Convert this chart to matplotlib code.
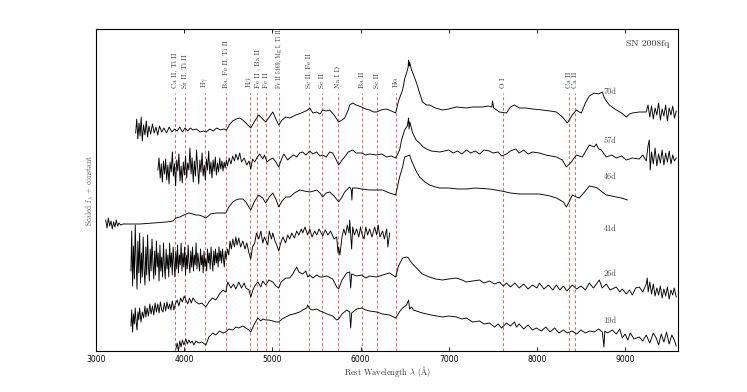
import matplotlib
matplotlib.use("Agg")
import matplotlib.pyplot as plt
import numpy as np

plt.rcParams['mathtext.fontset'] = 'cm'
plt.rcParams['axes.unicode_minus'] = False

# spectra as (rest wavelength [A], scaled flux) pairs
spec_70d = [
    [3450, -22], [3462, -8], [3475, -28], [3488, -12], [3500, -25], [3512, -6], [3525, -30], [3540, -14],
    [3555, -24], [3570, -10], [3585, -26], [3600, -15], [3620, -23], [3640, -13], [3660, -22], [3680, -16],
    [3700, -24], [3720, -15], [3745, -21], [3770, -17], [3800, -22], [3830, -16], [3860, -21], [3890, -18],
    [3920, -20], [3950, -16], [3980, -21], [4010, -17], [4040, -20], [4070, -17], [4100, -19], [4140, -18],
    [4180, -21], [4220, -20], [4250, -21], [4290, -18], [4330, -20], [4370, -17], [4410, -19], [4450, -18],
    [4480, -19], [4510, -14], [4550, -10], [4590, -8], [4630, -7], [4665, -9], [4700, -12], [4755, -17],
    [4800, -10], [4846, -4], [4890, -8], [4925, -11], [4965, -6], [5005, -1], [5040, -8], [5072, -14],
    [5110, -9], [5152, -6], [5197, -7], [5265, -4], [5330, -2], [5400, 1], [5424, 3], [5460, -2],
    [5503, -1], [5540, -3], [5571, 1], [5610, 0], [5650, 1], [5700, -4], [5752, -11], [5790, -9],
    [5820, -7], [5860, 1], [5877, 6], [5911, 8], [5950, 6], [6012, 4], [6060, 2], [6103, 1],
    [6150, -1], [6182, -1], [6230, 1], [6296, 2], [6350, 0], [6398, -2], [6430, 10], [6477, 21],
    [6500, 32], [6522, 38], [6540, 44], [6545, 51], [6550, 45], [6556, 49], [6579, 41], [6610, 34],
    [6635, 28], [6670, 18], [6703, 9], [6749, 6], [6783, 6], [6850, 3], [6930, 1], [7000, 2],
    [7088, 4], [7200, 3], [7270, 4], [7383, 4], [7450, 5], [7490, 4], [7496, 10], [7510, 3],
    [7575, -1], [7655, -2], [7700, 4], [7745, 6], [7800, 3], [7881, 3], [7950, 2], [8062, 1],
    [8150, 0], [8221, -1], [8289, -6], [8345, -12], [8402, -4], [8447, 1], [8481, -1], [8504, -2],
    [8550, 8], [8594, 15], [8651, 18], [8700, 17], [8742, 19], [8760, 14], [8787, 10], [8821, 6],
    [8900, 1], [8960, -2], [9014, -6], [9050, -3], [9082, -2], [9160, -1], [9240, -1], [9260, 6],
    [9280, -6], [9300, 5], [9320, -8], [9340, 3], [9360, -4], [9380, 8], [9400, -9], [9420, 2],
    [9440, -5], [9460, 6], [9480, -10], [9500, 3], [9520, -4], [9540, 5], [9560, -7], [9580, 0],
]

spec_57d = [
    [3702, -14], [3715, -2], [3728, -22], [3740, -8], [3752, -26], [3765, -5], [3778, -18], [3790, -3],
    [3802, -24], [3815, -9], [3828, -28], [3840, -6], [3853, -16], [3866, 4], [3878, -20], [3890, -8],
    [3903, -30], [3915, -4], [3928, -15], [3940, 2], [3953, -25], [3965, -10], [3978, -27], [3990, -6],
    [4003, -19], [4015, 0], [4028, -22], [4040, -7], [4053, -14], [4065, 8], [4078, -18], [4090, -2],
    [4103, -26], [4115, -5], [4128, -20], [4140, 6], [4153, -12], [4165, -28], [4178, -4], [4190, -16],
    [4203, 3], [4215, -20], [4228, -9], [4240, -24], [4253, -3], [4265, -14], [4278, 5], [4290, -18],
    [4303, -6], [4315, -22], [4328, -4], [4340, -15], [4353, -1], [4365, -19], [4378, -7], [4390, -16],
    [4403, -2], [4415, -13], [4428, -5], [4440, -15], [4453, -6], [4465, -12], [4478, -4], [4490, -10],
    [4510, -2], [4530, -8], [4550, 0], [4570, -5], [4586, 2], [4610, -4], [4630, 3], [4650, -6],
    [4680, -2], [4710, -9], [4735, -5], [4755, -13], [4775, -3], [4800, -6], [4830, -1], [4855, 2],
    [4891, -3], [4910, 1], [4940, -6], [4965, -4], [5005, -2], [5040, -6], [5072, -11], [5100, -4],
    [5130, 2], [5174, -4], [5197, -2], [5240, 1], [5276, -1], [5310, 3], [5344, 4], [5380, 1],
    [5424, 5], [5460, 2], [5500, 4], [5540, 0], [5571, 1], [5610, -1], [5650, 4], [5684, 3],
    [5720, -3], [5752, -9], [5790, -4], [5820, -1], [5860, 4], [5911, 6], [5950, 3], [6012, 3],
    [6060, 1], [6103, 2], [6182, 1], [6240, 2], [6296, -1], [6350, 0], [6398, -2], [6443, 6],
    [6465, 16], [6500, 26], [6530, 30], [6545, 38], [6550, 27], [6560, 34], [6590, 23], [6630, 16],
    [6669, 13], [6710, 9], [6749, 7], [6800, 5], [6900, 4], [7000, 6], [7050, 3], [7100, 5],
    [7150, 2], [7200, 6], [7250, 3], [7300, 5], [7350, 2], [7400, 6], [7462, 5], [7500, 3],
    [7560, 4], [7600, 0], [7655, 2], [7700, 5], [7760, 7], [7800, 3], [7850, 6], [7900, 2],
    [7950, 4], [8028, 3], [8100, 1], [8221, -1], [8289, -4], [8334, -11], [8391, -6], [8447, 1],
    [8515, -1], [8594, 11], [8650, 9], [8674, 12], [8700, 7], [8730, 6], [8787, -1], [8850, 1],
    [8900, -2], [8960, 0], [9014, -4], [9082, -2], [9161, -3], [9200, 1], [9240, -5], [9260, 10],
    [9274, 16], [9285, -14], [9300, 4], [9320, -8], [9340, 8], [9360, -10], [9380, 2], [9400, -7],
    [9420, 6], [9440, -9], [9460, 3], [9480, -6], [9500, 5], [9520, -8], [9540, 1], [9560, -5],
    [9580, -2],
]

spec_46d = [
    [3110, -24], [3125, -32], [3140, -22], [3155, -30], [3170, -25], [3185, -33], [3200, -26], [3215, -31],
    [3230, -24], [3245, -30], [3260, -27], [3280, -29], [3306, -28], [3374, -28], [3500, -28], [3650, -27],
    [3800, -26], [3872, -25], [3906, -22], [3950, -21], [3997, -19], [4050, -17], [4099, -18], [4133, -19],
    [4166, -19], [4200, -20], [4246, -22], [4300, -18], [4359, -17], [4420, -17], [4472, -17], [4506, -11],
    [4552, -6], [4586, -4], [4619, -3], [4665, -3], [4700, -6], [4755, -14], [4800, -5], [4846, 1],
    [4890, -2], [4925, -7], [4965, -1], [5005, 3], [5040, -3], [5072, -11], [5110, -5], [5152, -1],
    [5197, -1], [5250, 3], [5310, 6], [5360, 5], [5424, 4], [5470, 5], [5503, 6], [5540, 3],
    [5571, -1], [5610, 3], [5650, 4], [5700, 0], [5752, -6], [5790, -1], [5820, 4], [5877, 9],
    [5895, 6], [5902, -4], [5909, 8], [5956, 8], [6012, 7], [6103, 6], [6182, 6], [6250, 6],
    [6330, 3], [6398, 1], [6443, 19], [6477, 29], [6500, 39], [6530, 40], [6556, 41], [6575, 36],
    [6590, 33], [6630, 25], [6669, 19], [6730, 14], [6783, 11], [6850, 9], [6896, 8], [7000, 8],
    [7100, 7], [7200, 7], [7300, 8], [7462, 7], [7600, 5], [7700, 3], [7800, 2], [8028, 2],
    [8150, 0], [8221, -2], [8300, -6], [8334, -11], [8370, -5], [8402, 1], [8447, -1], [8481, -2],
    [8540, 4], [8594, 10], [8650, 9], [8685, 8], [8740, 4], [8787, 1], [8850, 0], [8900, -1],
    [8960, -2], [9025, -4],
]

spec_41d = [
    [3396, -30], [3405, 10], [3415, -45], [3425, -5], [3435, -38], [3445, 16], [3455, -20], [3465, -48],
    [3475, 0], [3485, -32], [3495, 8], [3505, -42], [3515, -12], [3525, -36], [3535, 4], [3545, -28],
    [3555, -44], [3565, -6], [3575, -34], [3585, 6], [3595, -25], [3605, -40], [3615, -8], [3625, -30],
    [3635, 2], [3645, -22], [3655, -38], [3665, -10], [3675, -34], [3685, 0], [3695, -26], [3705, -12],
    [3715, -40], [3725, -4], [3735, -30], [3745, -16], [3755, -36], [3765, -2], [3775, -24], [3785, -38],
    [3795, -8], [3805, -28], [3815, -14], [3825, -36], [3835, -2], [3845, -26], [3855, -12], [3865, -34],
    [3875, -6], [3885, -22], [3895, -36], [3905, -10], [3915, -28], [3925, -4], [3935, -32], [3945, -14],
    [3955, -24], [3965, -2], [3975, -30], [3985, -12], [3995, -26], [4005, -6], [4015, -34], [4025, -14],
    [4035, -28], [4045, -4], [4055, -22], [4065, -32], [4075, -10], [4085, -26], [4095, -6], [4105, -30],
    [4115, -14], [4125, -24], [4135, -2], [4145, -28], [4155, -12], [4165, -22], [4175, -30], [4185, -8],
    [4195, -24], [4205, -14], [4215, -32], [4225, -10], [4235, -26], [4245, -18], [4255, -30], [4265, -8],
    [4275, -22], [4285, -12], [4295, -28], [4305, -6], [4315, -20], [4325, -30], [4335, -10], [4345, -24],
    [4355, -8], [4365, -22], [4375, -12], [4385, -26], [4395, -6], [4405, -20], [4415, -10], [4425, -22],
    [4435, -8], [4445, -18], [4455, -26], [4465, -10], [4475, -18], [4490, -8], [4505, -14], [4520, 0],
    [4535, -8], [4552, 2], [4570, -6], [4586, 4], [4600, -4], [4619, 3], [4640, -6], [4665, 0],
    [4690, -8], [4710, -2], [4735, -12], [4755, -18], [4775, -6], [4800, -2], [4820, 8], [4846, 2],
    [4870, 10], [4891, -2], [4910, 4], [4948, -4], [4965, 10], [4990, 2], [5005, 8], [5030, 0],
    [5050, -4], [5072, -10], [5095, -2], [5120, 4], [5150, -2], [5174, 6], [5197, 2], [5220, 8],
    [5250, 3], [5276, 10], [5300, 6], [5330, 12], [5344, 8], [5370, 14], [5400, 6], [5424, 12],
    [5450, 4], [5480, 10], [5503, 6], [5530, 12], [5571, 5], [5600, 11], [5630, 6], [5660, 10],
    [5700, 2], [5729, 4], [5745, -12], [5752, -6], [5765, -14], [5790, 4], [5810, 12], [5830, 6],
    [5850, 16], [5870, 8], [5877, 21], [5890, 4], [5899, -8], [5911, 14], [5930, 6], [5956, 12],
    [5980, 4], [6000, 14], [6012, 8], [6040, 2], [6060, 14], [6080, 6], [6103, 12], [6130, 4],
    [6160, 14], [6182, 6], [6200, 16], [6220, 4], [6250, 10], [6270, 2], [6296, 12], [6310, -6],
    [6330, 8],
]

spec_26d = [
    [3396, -40], [3405, -24], [3415, -46], [3425, -28], [3435, -38], [3445, -22], [3455, -36], [3465, -44],
    [3475, -26], [3485, -34], [3495, -22], [3510, -36], [3525, -26], [3540, -32], [3555, -20], [3566, -31],
    [3580, -22], [3595, -30], [3610, -18], [3625, -28], [3640, -20], [3655, -29], [3670, -17], [3685, -26],
    [3700, -18], [3715, -27], [3730, -16], [3745, -24], [3759, -26], [3775, -17], [3790, -25], [3805, -16],
    [3820, -23], [3835, -18], [3850, -24], [3865, -15], [3883, -24], [3900, -18], [3920, -14], [3940, -20],
    [3960, -12], [3980, -16], [4000, -10], [4019, -14], [4040, -18], [4060, -12], [4080, -17], [4100, -12],
    [4133, -16], [4166, -18], [4200, -17], [4246, -21], [4280, -16], [4320, -12], [4359, -14], [4400, -8],
    [4440, -4], [4472, -6], [4495, 4], [4530, -2], [4560, 2], [4586, -3], [4619, 4], [4650, -2],
    [4680, 3], [4700, -2], [4735, -4], [4755, -11], [4780, -4], [4800, 0], [4835, 4], [4870, -1],
    [4891, 5], [4925, 1], [4960, 6], [5005, 4], [5040, 0], [5072, -2], [5100, 4], [5152, 8],
    [5197, 8], [5230, 12], [5276, 19], [5300, 14], [5344, 12], [5380, 15], [5401, 9], [5424, 11],
    [5460, 8], [5503, 11], [5540, 9], [5571, 9], [5620, 10], [5684, 7], [5729, -1], [5752, -3],
    [5790, 6], [5843, 13], [5877, 14], [5888, -2], [5899, 12], [5956, 10], [6012, 11], [6060, 8],
    [6103, 10], [6182, 9], [6250, 11], [6330, 13], [6398, 9], [6430, 20], [6477, 28], [6522, 29],
    [6545, 28], [6556, 26], [6590, 22], [6635, 18], [6700, 12], [6783, 9], [6850, 7], [6930, 6],
    [7000, 7], [7088, 8], [7150, 6], [7200, 4], [7270, 5], [7350, 6], [7400, 3], [7462, 5],
    [7520, 2], [7575, 4], [7620, 0], [7655, 3], [7700, -1], [7750, 3], [7800, -2], [7850, 2],
    [7900, -3], [7950, 1], [8000, -2], [8028, 3], [8080, -3], [8130, 1], [8180, -4], [8221, 1],
    [8260, -4], [8300, 0], [8340, -5], [8402, 1], [8450, -3], [8500, 0], [8550, -4], [8594, 3],
    [8640, -2], [8708, 6], [8740, -2], [8787, 2], [8830, -4], [8900, -1], [8940, -6], [8968, -3],
    [9014, -8], [9050, -4], [9082, -9], [9120, -2], [9161, -1], [9200, -6], [9240, 2], [9251, 8],
    [9262, -6], [9280, 4], [9300, -8], [9320, 2], [9340, -10], [9360, -2], [9380, -9], [9400, 0],
    [9420, -12], [9440, -3], [9460, -10], [9480, -1], [9500, -13], [9520, -4], [9540, -9], [9557, -2],
    [9580, -11],
]

spec_19d = [
    [3906, -18], [3920, -12], [3935, -20], [3950, -10], [3965, -16], [3980, -9], [3997, -14], [4019, -8],
    [4035, -13], [4053, -9], [4070, -12], [4090, -10], [4110, -14], [4133, -10], [4166, -12], [4200, -11],
    [4246, -14], [4280, -6], [4325, -2], [4359, -4], [4400, 0], [4440, -2], [4472, -1], [4506, 2],
    [4552, 1], [4586, 4], [4619, 3], [4665, 5], [4700, 3], [4735, 1], [4755, -1], [4790, 6],
    [4835, 13], [4870, 10], [4891, 12], [4925, 11], [4959, 11], [5005, 10], [5040, 9], [5072, 9],
    [5110, 12], [5152, 14], [5197, 16], [5240, 17], [5276, 18], [5310, 19], [5344, 21], [5390, 23],
    [5401, 26], [5424, 22], [5460, 21], [5503, 22], [5540, 20], [5571, 19], [5620, 17], [5684, 15],
    [5729, 11], [5752, 12], [5790, 17], [5843, 21], [5877, 19], [5888, 3], [5899, 18], [5956, 22],
    [6012, 23], [6060, 21], [6103, 20], [6182, 19], [6250, 17], [6330, 16], [6398, 13], [6440, 19],
    [6477, 23], [6522, 26], [6545, 31], [6556, 22], [6579, 24], [6600, 21], [6630, 20], [6703, 18],
    [6800, 16], [6930, 14], [7000, 15], [7088, 14], [7150, 12], [7200, 13], [7270, 9], [7350, 10],
    [7400, 7], [7462, 8], [7519, 4], [7560, 7], [7600, 3], [7655, 8], [7700, 5], [7745, 9],
    [7768, 4], [7800, 7], [7850, 2], [7900, 6], [7950, 1], [7994, 3], [8050, 0], [8100, 4],
    [8150, -1], [8200, 3], [8250, -2], [8300, 1], [8345, -2], [8400, 0], [8450, -3], [8500, 1],
    [8550, -2], [8600, 0], [8650, -1], [8700, 2], [8742, -1], [8760, -16], [8770, 0], [8800, -2],
    [8855, 1], [8900, -3], [8940, 2], [8968, -7], [9000, -3], [9030, -9], [9060, -2], [9100, -8],
    [9161, -6], [9200, -10], [9240, -4], [9280, -12], [9320, -2], [9353, -7], [9380, -14], [9410, -3],
    [9440, -11], [9470, -1], [9500, -13], [9530, -4], [9557, -9], [9580, -15],
]

epochs = ['70d', '57d', '46d', '41d', '26d', '19d']
offsets = [240, 195, 155, 110, 65, 20]
spectra = [spec_70d, spec_57d, spec_46d, spec_41d, spec_26d, spec_19d]
epoch_label_y = [259, 210, 174, 122, 77, 30]

line_wl = [3898, 4004, 4238, 4476, 4748, 4831, 4925, 5076, 5416, 5559, 5748, 6016, 6182, 6401,
           7613, 8360, 8433]
line_names = ['Ca II, Ti II', 'Sr II, Ti II', r'H$\gamma$', 'Ba, Fe II, Ti II', r'H$\beta$',
              'Fe II , Ba II', 'Fe II', 'Fe II 5169, Mg I, Ti II', 'Sc II, Fe II', 'Sc II', 'Na I D',
              'Ba II', 'Sc II', r'H$\alpha$', 'O I', 'Ca II', 'Ca II']

fig = plt.figure(figsize=(7.47, 3.92), dpi=100)
ax = fig.add_axes([96/747, 41/392, 582/747, 322/392])

for wl, name in zip(line_wl, line_names):
    ax.axvline(wl, ymin=0, ymax=0.80, color='#f06060', ls=(0, (3, 2.5)), lw=0.7, zorder=1)
    fs = 4.3 if '5169' in name else 5.2
    ax.text(wl, 0.818, name, transform=ax.get_xaxis_transform(), rotation=90,
            ha='center', va='bottom', fontsize=fs, family='cmr10', color='#333333',
            linespacing=1.0)

for spec, off, ep, ly in zip(spectra, offsets, epochs, epoch_label_y):
    arr = np.array(spec, dtype=float)
    ax.plot(arr[:, 0], arr[:, 1] + off, color='black', lw=0.65, zorder=2)
    ax.text(8830, ly, ep, fontsize=6, family='cmr10', color='#444444', ha='center', va='center')

ax.text(0.985, 0.955, 'SN 2008fq', transform=ax.transAxes, ha='right', va='center',
        fontsize=7, family='cmr10', color='#333333')

ax.set_xlim(3000, 9600)
ax.set_ylim(0, 322)
ax.set_xticks([3000, 4000, 5000, 6000, 7000, 8000, 9000])
ax.set_yticks([])
ax.tick_params(axis='x', direction='in', top=True, length=3, width=0.6, labelsize=5.5, pad=3)
for s in ax.spines.values():
    s.set_linewidth(0.8)

ax.set_xlabel(r'Rest Wavelength $\lambda$ ($\mathrm{\AA}$)', fontsize=6, family='cmr10',
              color='#333333', labelpad=0)
ax.set_ylabel(r'Scaled f$_\lambda$ + constant', fontsize=5.5, family='cmr10',
              color='#555555', labelpad=1)

fig.savefig('out.png', dpi=100)
